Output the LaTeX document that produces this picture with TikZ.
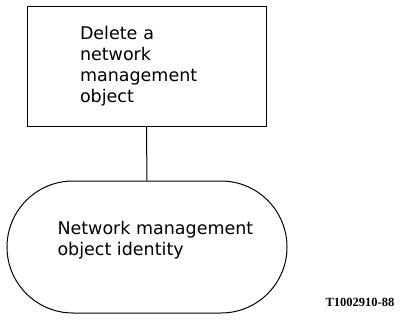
\documentclass[tikz,border=0pt]{standalone}
\usepackage{fontspec}
\setmainfont{DejaVu Sans}
\newfontfamily\figfont{Liberation Serif}
\usepackage{tikz}
\usetikzlibrary{shapes.misc,positioning,calc}

\begin{document}
\begin{tikzpicture}[x=1pt,y=1pt,line width=1pt,
	txt/.style={font=\fontsize{17.5}{21}\selectfont,align=left,inner sep=0pt},
	actbox/.style={rectangle,draw,minimum width=239pt,minimum height=119pt,inner sep=0pt},
	idshape/.style={rounded rectangle,draw,minimum width=280pt,minimum height=132pt,inner sep=0pt}]
\useasboundingbox (0,0) rectangle (404,322);
\node (del) at (146.5,255.5)[actbox,txt,text width=133pt] {Delete a\\network\\management\\object};
\node (ident) at (147,75)[idshape] {};
\node (idtext) at ($(ident.center)+(-90,7)$)[txt,anchor=west] {Network management\\object identity};
\node (fig) at (360,20)[inner sep=0pt] {\figfont\bfseries\fontsize{12.5}{14}\selectfont T1002910-88};

\draw (del) -- (ident);
\end{tikzpicture}
\end{document}
